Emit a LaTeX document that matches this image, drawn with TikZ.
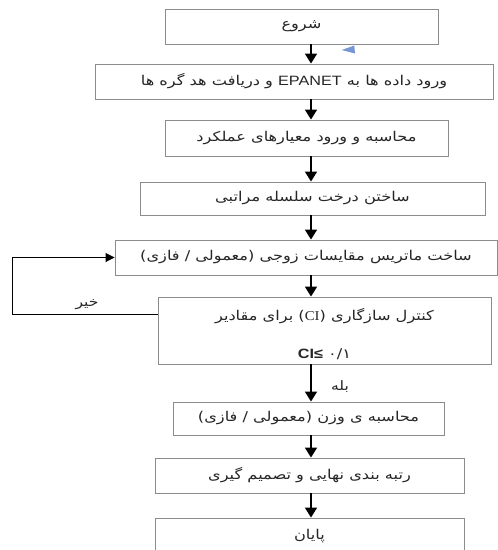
\documentclass[tikz,border=0pt]{standalone}
\usepackage{fontspec}
\usetikzlibrary{arrows.meta,calc}
\TeXXeTstate=1
\newfontfamily\ar[Script=Arabic,FakeStretch=1.2]{DejaVu Sans}
\newfontfamily\lat[FakeStretch=1.2]{Liberation Sans}
\newfontfamily\latser[FakeStretch=1.1]{Liberation Serif}
\begin{document}
\begin{tikzpicture}[x=1pt,y=-1pt,
  box/.style={draw=black!45, line width=0.9pt, fill=white, inner sep=0pt, font=\ar\fontsize{13.5}{16}\selectfont, text=black!85},
  arr/.style={-{Triangle[width=12pt,length=10pt]}, line width=1.8pt},
  loopline/.style={line width=0.9pt},
  lbl/.style={font=\ar\fontsize{13}{15}\selectfont, text=black!85, inner sep=1pt}]
\clip (0,0) rectangle (498,550);
\fill[white] (0,0) rectangle (498,550);
\coordinate (ax) at (311,0);
\coordinate (lp) at (12,0);
\node[box, minimum width=273pt, minimum height=35pt] (b1) at (301.5,26.5) {\beginR شروع\endR};
\node[box, minimum width=398pt, minimum height=35pt] (b2) at (294,81.5) {\beginR ورود داده ها به \beginL{\lat EPANET}\endL{} و دریافت هد گره ها\endR};
\node[box, minimum width=283pt, minimum height=36pt] (b3) at (306.5,138) {\beginR محاسبه و ورود معیارهای عملکرد\endR};
\node[box, minimum width=345pt, minimum height=33pt] (b4) at (312.5,198.5) {\beginR ساختن درخت سلسله مراتبی\endR};
\node[box, minimum width=382pt, minimum height=35pt] (b5) at (306,257.5) {\beginR ساخت ماتریس مقایسات زوجی (معمولی / فازی)\endR};
\node[box, minimum width=333pt, minimum height=67pt, align=center] (b6) at (324.5,330.5) {\rule{0pt}{19pt}\beginR کنترل سازگاری (\beginL{\latser CI}\endL) برای مقادیر\endR\\[22pt]{\lat\bfseries CI≤} ۰/۱};
\node[box, minimum width=271pt, minimum height=33pt] (b7) at (308.5,418.5) {\beginR محاسبه ی وزن (معمولی / فازی)\endR};
\node[box, minimum width=309pt, minimum height=35pt] (b8) at (309.5,475.5) {\beginR رتبه بندی نهایی و تصمیم گیری\endR};
\node[box, minimum width=309pt, minimum height=36pt] (b9) at (309.5,536) {\beginR پایان\endR};
\draw[arr] (b1.south -| ax) -- (b2.north -| ax);
\draw[arr] (b2.south -| ax) -- (b3.north -| ax);
\draw[arr] (b3.south -| ax) -- (b4.north -| ax);
\draw[arr] (b4.south -| ax) -- (b5.north -| ax);
\draw[arr] (b5.south -| ax) -- (b6.north -| ax);
\draw[arr] (b6.south -| ax) -- (b7.north -| ax);
\draw[arr] (b7.south -| ax) -- (b8.north -| ax);
\draw[arr] (b8.south -| ax) -- (b9.north -| ax);
\draw[loopline, -{Triangle[width=9pt,length=9pt]}] ([yshift=16.5pt]b6.west) -- ([yshift=16.5pt]b6.west -| lp) |- (b5.west);
\node[lbl] (no) at (87,305) {\beginR خیر\endR};
\node[lbl] (yes) at (340,387) {\beginR بله\endR};
\fill[cyan!40!blue!55] (341.7,50) -- (354.3,45.5) -- (355,53.5) -- cycle;
\end{tikzpicture}
\end{document}
